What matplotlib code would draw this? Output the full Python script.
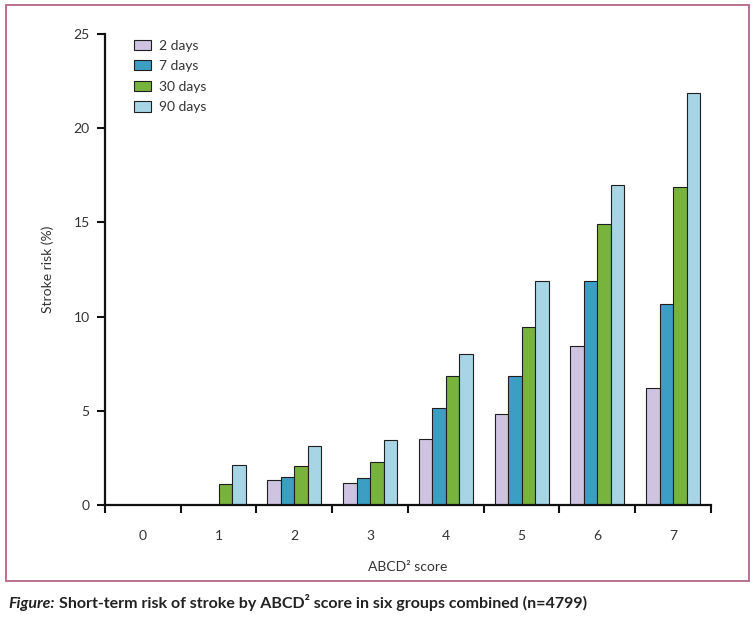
import numpy as np
import matplotlib
matplotlib.use("Agg")
import matplotlib.pyplot as plt
from matplotlib.patches import Rectangle

# ABCD2 score vs stroke risk (%) at four time points
scores = [0, 1, 2, 3, 4, 5, 6, 7]
risk_2d = [0, 0, 1.35, 1.17, 3.52, 4.83, 8.46, 6.21]
risk_7d = [0, 0, 1.50, 1.42, 5.13, 6.85, 11.89, 10.65]
risk_30d = [0, 1.10, 2.05, 2.28, 6.85, 9.46, 14.90, 16.86]
risk_90d = [0, 2.11, 3.11, 3.43, 8.00, 11.89, 16.98, 21.88]
labels = ['2 days', '7 days', '30 days', '90 days']
colors = ['#cec4e2', '#3d9ec4', '#78b33d', '#a7d5e5']

plt.rcParams['font.family'] = ['Lato', 'DejaVu Sans']

fig = plt.figure(figsize=(7.55, 6.2), dpi=100)
ax = fig.add_axes([0.139, 0.1855, 0.8027, 0.7597])

x = np.array(scores)
w = 0.178
series = [risk_2d, risk_7d, risk_30d, risk_90d]
for i, (vals, lab, col) in enumerate(zip(series, labels, colors)):
    ax.bar(x + (i - 1.5) * w, vals, width=w, color=col, edgecolor='#1e1e1e',
           linewidth=0.8, label=lab, zorder=2)

ax.set_xlim(-0.5, 7.5)
ax.set_ylim(0, 25)
ax.set_yticks([0, 5, 10, 15, 20, 25])
ax.set_xticks(x)
ax.set_xticklabels([str(s) for s in scores])
ax.set_xticks(np.arange(-0.5, 8, 1), minor=True)
ax.tick_params(axis='x', which='major', length=0, pad=18, labelsize=10, colors='#333333')
ax.tick_params(axis='x', which='minor', length=6, width=1.5, direction='out')
ax.tick_params(axis='y', length=6, width=1.5, labelsize=10, colors='#333333', pad=5)
ax.tick_params(axis='both', which='both', color='#111111')

for s in ['top', 'right']:
    ax.spines[s].set_visible(False)
for s in ['left', 'bottom']:
    ax.spines[s].set_linewidth(1.6)
    ax.spines[s].set_color('#111111')

ax.set_ylabel('Stroke risk (%)', fontsize=10, color='#333333', labelpad=14)
ax.set_xlabel('ABCD² score', fontsize=10, color='#333333', labelpad=14)

leg = ax.legend(loc='upper left', bbox_to_anchor=(0.038, 1.0), frameon=False,
                fontsize=10, handlelength=1.25, handleheight=0.75,
                handletextpad=0.6, labelspacing=0.62, borderaxespad=0.0)
for t in leg.get_texts():
    t.set_color('#333333')

# pink frame around chart
fig.patches.append(Rectangle((0.008, 0.063), 0.984, 0.929, transform=fig.transFigure,
                             fill=False, edgecolor='#b8648a', linewidth=1.3))

cap = fig.text(0.011, 0.014, 'Figure:', fontsize=11.5, fontweight='bold', style='italic',
               color='#222222', va='bottom')
fig.add_artist(plt.Annotation('Short-term risk of stroke by ABCD² score in six groups combined (n=4799)',
                              xy=(1, 0), xycoords=cap, xytext=(3, 0), textcoords='offset points',
                              va='bottom', fontsize=11.5, fontweight='bold', color='#222222'))

fig.savefig('out.png', dpi=100)
